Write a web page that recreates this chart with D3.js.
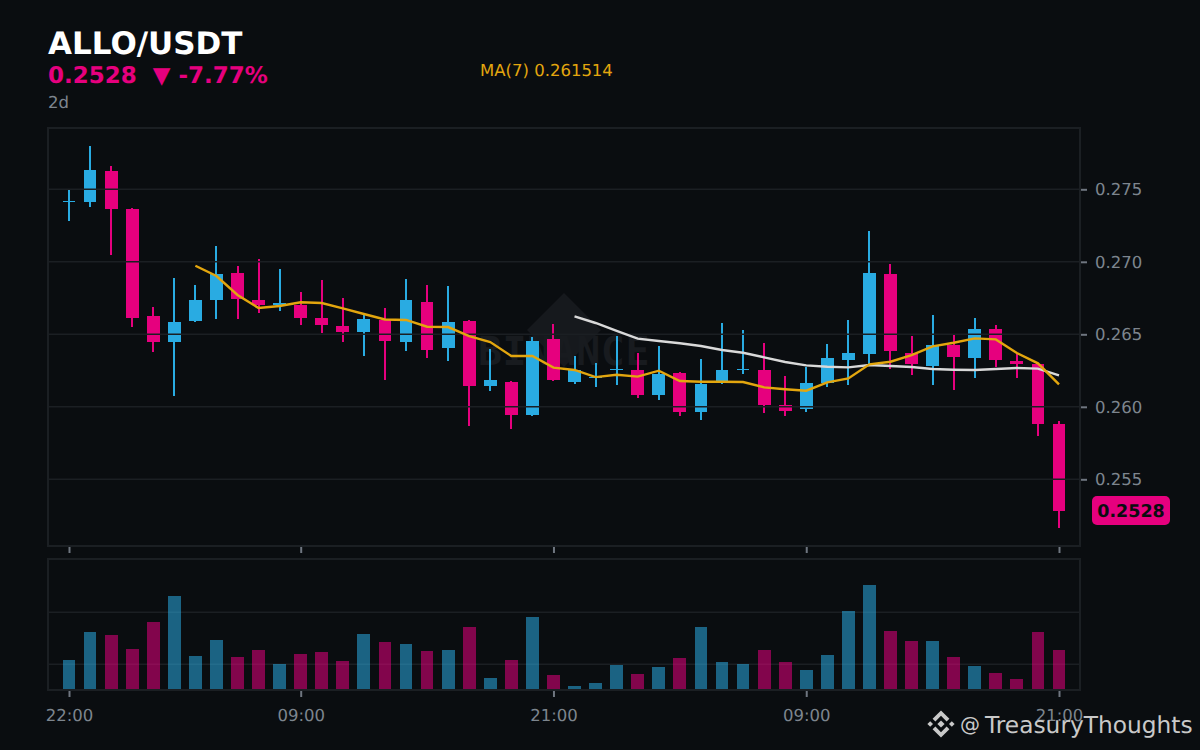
<!DOCTYPE html>
<html>
<head>
<meta charset="utf-8">
<script src="https://cdn.jsdelivr.net/npm/d3@7"></script>
<style>
  html, body { margin: 0; padding: 0; background: #0a0d10; }
  svg { display: block; }
  text { font-family: "DejaVu Sans", sans-serif; text-rendering: geometricPrecision; }
</style>
</head>
<body>
<div id="chart"></div>
<script>
// hourly candles
const opens = [0.27416,0.27412,0.27626,0.27364,0.26626,0.26447,0.26592,0.26737,0.26923,0.26737,0.26702,0.26702,
  0.26612,0.26557,0.26516,0.26599,0.26447,0.26723,0.26405,0.26592,0.26143,0.26171,0.25943,0.26467,
  0.26171,0.26204,0.26257,0.26254,0.26081,0.26233,0.25964,0.26164,0.26257,0.26254,0.26012,0.25985,
  0.26164,0.26323,0.26364,0.26916,0.26371,0.26281,0.26426,0.26337,0.26537,0.26316,0.26295,0.25881];
const closes = [0.27419,0.27633,0.27364,0.26612,0.26447,0.26585,0.26737,0.26916,0.26743,0.26702,0.26716,0.26612,
  0.26564,0.26516,0.26605,0.26454,0.26737,0.26392,0.26585,0.26143,0.26185,0.25943,0.26454,0.26185,
  0.26254,0.26207,0.26261,0.26081,0.26226,0.25964,0.26157,0.26254,0.26261,0.26012,0.25971,0.26164,
  0.26337,0.26371,0.26923,0.26385,0.26295,0.26426,0.26343,0.26537,0.26323,0.26295,0.25881,0.25281];
const highs = [0.27495,0.27799,0.27661,0.27371,0.26688,0.26888,0.26840,0.27109,0.26971,0.27019,0.26950,0.26792,
  0.26874,0.26750,0.26633,0.26681,0.26881,0.26840,0.26833,0.26599,0.26399,0.26178,0.26481,0.26571,
  0.26350,0.26302,0.26488,0.26371,0.26419,0.26240,0.26330,0.26578,0.26530,0.26440,0.26212,0.26274,
  0.26433,0.26599,0.27212,0.26985,0.26488,0.26633,0.26502,0.26612,0.26564,0.26371,0.26302,0.25902];
const lows = [0.27283,0.27380,0.27049,0.26552,0.26380,0.26076,0.26585,0.26605,0.26605,0.26647,0.26661,0.26564,
  0.26509,0.26447,0.26350,0.26185,0.26385,0.26336,0.26316,0.25867,0.26109,0.25847,0.25936,0.26178,
  0.26157,0.26136,0.26150,0.26061,0.26047,0.25936,0.25909,0.26157,0.26226,0.25957,0.25936,0.25964,
  0.26136,0.26150,0.26288,0.26261,0.26219,0.26150,0.26116,0.26199,0.26274,0.26199,0.25799,0.25164];
const volumes = [217,324,313,259,363,463,232,293,228,255,201,240,247,213,317,286,278,251,255,343,147,217,382,159,
  117,128,197,163,190,224,343,209,201,255,209,178,236,405,505,328,290,290,228,193,167,144,324,255];

// moving averages start late, so they carry their own first index
const ma7Start = 6;
const ma7 = [0.26973,0.26902,0.26771,0.26681,0.26695,0.26721,0.26716,0.26679,0.26640,0.26602,0.26599,0.26552,
  0.26550,0.26488,0.26447,0.26350,0.26350,0.26270,0.26254,0.26205,0.26221,0.26208,0.26249,0.26178,0.26173,0.26173,
  0.26171,0.26134,0.26121,0.26111,0.26169,0.26196,0.26293,0.26311,0.26357,0.26417,0.26442,0.26472,0.26465,0.26371,
  0.26300,0.26155];
const ma25Start = 24;
const ma25 = [0.26624,0.26578,0.26523,0.26470,0.26454,0.26438,0.26419,0.26392,0.26373,0.26341,0.26309,0.26286,
  0.26276,0.26272,0.26288,0.26281,0.26274,0.26261,0.26256,0.26254,0.26261,0.26268,0.26263,0.26217];

const priceTicks = [0.255, 0.26, 0.265, 0.27, 0.275];
const volumeTicks = [200, 400];
const timeTicks = [0, 11, 23, 35, 47];
const timeLabels = ["22:00", "09:00", "21:00", "09:00", "21:00"];

const up = "#29abe2";
const down = "#e6007e";
const grid = "#1b1f23";
const muted = "#7d858e";

const svg = d3.select("#chart").append("svg").attr("width", 1200).attr("height", 750);

svg.append("rect").attr("width", 1200).attr("height", 750).attr("fill", "#0a0d10");

const x = d3.scaleLinear().domain([0, 47]).range([69, 1059]);
const y = d3.scaleLinear().domain([0.255, 0.275]).range([479.3, 189.3]);
const yVol = d3.scaleLinear().domain([104, 605]).range([689.3, 559]);

const candles = opens.map(function (d, i) {
  return { i: i, open: d, close: closes[i], high: highs[i], low: lows[i], volume: volumes[i] };
});
const colorOf = function (d) {
  return d.close >= d.open ? up : down;
};

// header
svg.append("text").attr("x", 48).attr("y", 54).attr("fill", "#fff")
  .style("font-size", "31px").style("font-weight", "bold").text("ALLO/USDT");
svg.append("text").attr("x", 48).attr("y", 83).attr("fill", down)
  .style("font-size", "23px").style("font-weight", "bold").attr("xml:space", "preserve")
  .text("0.2528  ▼ -7.77%");
svg.append("text").attr("x", 48).attr("y", 108).attr("fill", muted)
  .style("font-size", "16.5px").text("2d");
svg.append("text").attr("x", 480).attr("y", 76).attr("fill", "#e3a60e")
  .style("font-size", "16.5px").text("MA(7) 0.261514");

// watermark
const mark = svg.append("g");
mark.append("path").attr("d", "M564,293L601,330L564,367L527,330Z").attr("fill", "#16191d");
mark.append("text").attr("x", 564).attr("y", 365).attr("text-anchor", "middle").attr("fill", "#181b1f")
  .style("font-family", "'DejaVu Sans Mono'").style("font-weight", "bold").style("font-size", "40px")
  .style("letter-spacing", "0.5px").text("BINANCE");

// candles, the grid runs over them
const candle = svg.append("g").attr("shape-rendering", "crispEdges").selectAll("g").data(candles).join("g");
candle.append("rect")
  .attr("x", function (d) { return x(d.i) - 1; })
  .attr("width", 2)
  .attr("y", function (d) { return y(d.high); })
  .attr("height", function (d) { return y(d.low) - y(d.high); })
  .attr("fill", colorOf);
candle.append("rect")
  .attr("x", function (d) { return x(d.i) - 6.4; })
  .attr("width", 12.8)
  .attr("y", function (d) { return y(Math.max(d.open, d.close)); })
  .attr("height", function (d) { return Math.max(1, Math.abs(y(d.open) - y(d.close))); })
  .attr("fill", colorOf);

svg.append("g").selectAll("line").data(priceTicks).join("line")
  .attr("x1", 48).attr("x2", 1080)
  .attr("y1", function (d) { return y(d); })
  .attr("y2", function (d) { return y(d); })
  .attr("stroke", grid).attr("stroke-width", 1.5);

const line = d3.line().x(function (d) { return x(d.i); }).y(function (d) { return y(d.v); });
svg.append("path")
  .attr("d", line(ma25.map(function (v, i) { return { i: i + ma25Start, v: v }; })))
  .attr("fill", "none").attr("stroke", "#d9d9d9").attr("stroke-width", 2.4);
svg.append("path")
  .attr("d", line(ma7.map(function (v, i) { return { i: i + ma7Start, v: v }; })))
  .attr("fill", "none").attr("stroke", "#e3a60e").attr("stroke-width", 2.4);

// volume
svg.append("g").selectAll("line").data(volumeTicks).join("line")
  .attr("x1", 48).attr("x2", 1080)
  .attr("y1", function (d) { return yVol(d); })
  .attr("y2", function (d) { return yVol(d); })
  .attr("stroke", grid).attr("stroke-width", 1.5);
svg.append("g").attr("shape-rendering", "crispEdges").selectAll("rect").data(candles).join("rect")
  .attr("x", function (d) { return x(d.i) - 6.4; })
  .attr("width", 12.8)
  .attr("y", function (d) { return yVol(d.volume); })
  .attr("height", function (d) { return yVol.range()[0] - yVol(d.volume); })
  .attr("fill", colorOf)
  .attr("opacity", 0.55);

// panel frames
svg.append("rect").attr("x", 48).attr("y", 128).attr("width", 1032).attr("height", 418)
  .attr("fill", "none").attr("stroke", grid).attr("stroke-width", 2);
svg.append("rect").attr("x", 48).attr("y", 559).attr("width", 1032).attr("height", 131)
  .attr("fill", "none").attr("stroke", grid).attr("stroke-width", 2);

// axes
const styleAxis = function (g) {
  g.select(".domain").remove();
  g.selectAll(".tick line").attr("stroke", "#6f7680").attr("stroke-width", 2);
  g.selectAll(".tick text").attr("fill", muted).style("font-size", "16.5px")
    .style("font-family", "'DejaVu Sans'");
};

svg.append("g").attr("transform", "translate(1081,0)")
  .call(d3.axisRight(y).tickValues(priceTicks).tickFormat(d3.format(".3f")).tickSize(6).tickPadding(8))
  .call(styleAxis);
svg.append("g").attr("transform", "translate(0,547)")
  .call(d3.axisBottom(x).tickValues(timeTicks).tickFormat("").tickSize(6))
  .call(styleAxis);
svg.append("g").attr("transform", "translate(0,691)")
  .call(d3.axisBottom(x).tickValues(timeTicks).tickFormat(function (d, i) { return timeLabels[i]; }).tickSize(6).tickPadding(12))
  .call(styleAxis);

// last price tag
svg.append("rect").attr("x", 1092).attr("y", 496).attr("width", 78).attr("height", 29).attr("rx", 5)
  .attr("fill", down);
svg.append("text").attr("x", 1131).attr("y", 517).attr("text-anchor", "middle").attr("fill", "#0a0d10")
  .style("font-size", "17.5px").style("font-weight", "bold").text("0.2528");

// footer logo and handle
const logo = svg.append("g").attr("transform", "translate(941,724)").attr("fill", "#c9c9c9");
logo.append("path").attr("d", "M0,-3.6L3.6,0L0,3.6L-3.6,0Z");
logo.append("path").attr("d", "M-13.6,0L-10.8,-2.8L-8,0L-10.8,2.8Z");
logo.append("path").attr("d", "M13.6,0L10.8,-2.8L8,0L10.8,2.8Z");
logo.append("path").attr("d", "M0,-13.6L8.4,-5.2L5.6,-2.6L0,-8.2L-5.6,-2.6L-8.4,-5.2Z");
logo.append("path").attr("d", "M0,13.6L8.4,5.2L5.6,2.6L0,8.2L-5.6,2.6L-8.4,5.2Z");
svg.append("text").attr("x", 960).attr("y", 731).attr("fill", "#c9c9c9")
  .style("font-size", "20px").text("@");
svg.append("text").attr("x", 985).attr("y", 733).attr("fill", "#c9c9c9")
  .style("font-size", "23.3px").text("TreasuryThoughts");
</script>
</body>
</html>
